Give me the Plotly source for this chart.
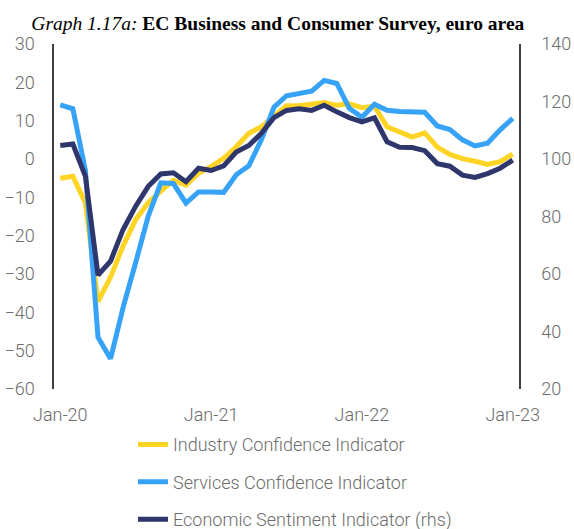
import pandas as pd
import plotly.graph_objects as go

months = list(pd.date_range("2020-01-01", periods=37, freq="MS").strftime("%b-%y"))
tick_labels = ["Jan-20", "Jan-21", "Jan-22", "Jan-23"]

industry = [-5.0, -4.5, -11.5, -37.2, -30.8, -22.7, -15.8, -11.4, -8.4, -5.6, -6.8,
            -3.7, -2.0, 0.2, 3.2, 6.7, 8.4, 11.0, 13.9, 13.9, 14.4, 14.7, 14.0, 14.4,
            13.4, 13.8, 8.4, 7.1, 5.7, 6.8, 3.1, 1.2, 0.1, -0.6, -1.4, -0.7, 1.3]
services = [14.1, 13.1, -3.0, -46.5, -52.1, -38.7, -27.0, -14.9, -6.2, -6.4, -11.5,
            -8.6, -8.6, -8.7, -4.1, -1.8, 5.0, 13.5, 16.5, 17.2, 17.7, 20.5, 19.7, 13.2,
            10.9, 14.3, 12.7, 12.4, 12.3, 12.2, 8.6, 7.7, 5.0, 3.4, 4.1, 7.6, 10.6]
esi = [104.7, 105.2, 94.0, 59.6, 64.5, 75.5, 83.6, 90.5, 94.8, 95.2, 92.1,
       96.8, 96.0, 97.6, 102.4, 104.7, 108.9, 114.4, 116.9, 117.5, 116.9, 118.7, 116.4, 114.4,
       112.9, 114.3, 106.0, 104.1, 104.0, 102.9, 98.4, 97.5, 94.4, 93.6, 94.9, 96.8, 99.6]

names = ["Industry Confidence Indicator", "Services Confidence Indicator",
         "Economic Sentiment Indicator (rhs)"]
colors = ["#FFD424", "#36A2F8", "#2F366B"]

FONT = "Roboto, sans-serif"
GRAY = "#6b6b6b"
AX = "#404040"
TF = dict(family=FONT, size=18, color=GRAY, weight=300)

fig = go.Figure()
fig.add_trace(go.Scatter(x=months, y=industry, name=names[0], mode="lines",
                         line=dict(color=colors[0], width=5), legendgroup="a"))
fig.add_trace(go.Scatter(x=months, y=services, name=names[1], mode="lines",
                         line=dict(color=colors[1], width=5), legendgroup="b"))
fig.add_trace(go.Scatter(x=months, y=esi, name=names[2], mode="lines", yaxis="y2",
                         line=dict(color=colors[2], width=5), legendgroup="c"))

fig.update_layout(
    width=574, height=529,
    margin=dict(l=54, r=55, t=44, b=140, autoexpand=False),
    paper_bgcolor="white", plot_bgcolor="white",
    font=TF,
    title=dict(
        text="<i>Graph 1.17a:</i> <b>EC Business and Consumer Survey, euro area</b>",
        font=dict(family="Liberation Serif, Times New Roman, serif", size=19.5, color="#000000"),
        x=0.484, xanchor="center", y=0.957, yanchor="middle", xref="container", yref="container"),
    xaxis=dict(type="category", categoryorder="array", categoryarray=months,
               range=[-0.5, 36.5], tickmode="array", tickvals=tick_labels, ticktext=tick_labels,
               showline=False, showgrid=False, zeroline=False, ticks="",
               ticklabelstandoff=13, tickfont=TF),
    xaxis2=dict(overlaying="x", anchor="free", position=60 / 90, side="top",
                range=[-0.5, 36.5], tickmode="array", tickvals=[11.5, 23.5, 35.5],
                ticks="outside", ticklen=5, tickwidth=1.5, tickcolor=AX,
                showline=True, linecolor=AX, linewidth=1.5,
                showticklabels=False, showgrid=False, zeroline=False),
    yaxis=dict(range=[-60, 30], tickmode="array", tickvals=list(range(-60, 31, 10)),
               showline=True, linecolor=AX, linewidth=1.5, ticks="", showgrid=False,
               zeroline=False, ticklabelstandoff=14, tickfont=TF),
    yaxis2=dict(range=[20, 140], tickmode="array", tickvals=list(range(20, 141, 20)),
                overlaying="y", side="right", anchor="x",
                showline=True, linecolor=AX, linewidth=1.5, ticks="", showgrid=False,
                zeroline=False, ticklabelstandoff=17, tickfont=TF),
    legend=dict(orientation="v", x=(133 - 54) / 465, xanchor="left", y=-0.108, yanchor="top",
                traceorder="grouped", tracegroupgap=11,
                font=TF, bgcolor="rgba(0,0,0,0)"),
    showlegend=True,
)

fig.write_html("out.html", config={"displayModeBar": False},
               post_script="document.body.style.margin='0';")
